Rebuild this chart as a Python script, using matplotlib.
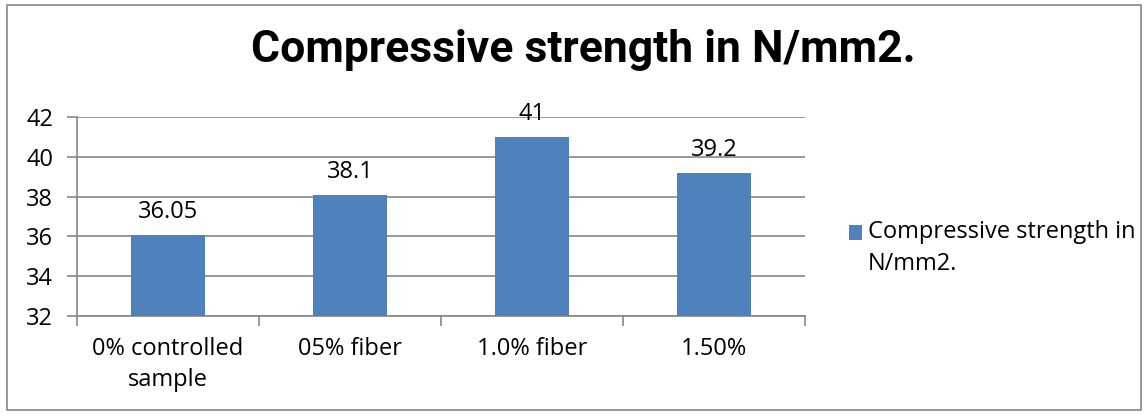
import matplotlib
matplotlib.use("Agg")
import matplotlib.pyplot as plt
from matplotlib.patches import Rectangle
from matplotlib.legend_handler import HandlerPatch

# Données du graphique
categories = ["0% controlled\nsample", "05% fiber", "1.0% fiber", "1.50%"]
valeurs = [36.05, 38.1, 41, 39.2]
etiquettes = ["36.05", "38.1", "41", "39.2"]
serie = "Compressive strength in\nN/mm2."
titre = "Compressive strength in N/mm2."

bleu = "#4F81BD"
gris = "#868686"
police = ["Open Sans", "DejaVu Sans"]
taille = 17


def carre_haut(legend, orig_handle, xdescent, ydescent, width, height, fontsize):
    # carré de légende aligné sur la première ligne du texte
    return Rectangle((-xdescent, -ydescent + 0.68 * fontsize), width, height)


fig = plt.figure(figsize=(11.48, 4.15), dpi=100)
fig.patches.append(Rectangle((7 / 1148, 5 / 415), 1134 / 1148, 405 / 415,
                             transform=fig.transFigure, fill=False,
                             edgecolor=gris, linewidth=1.2))

ax = fig.add_axes([77 / 1148, 1 - 316 / 415, (805 - 77) / 1148, (316 - 117) / 415])
x = range(len(categories))
barres = ax.bar(x, [v - 32 for v in valeurs], bottom=32, width=0.41,
                color=bleu, label=serie, zorder=3)

ax.set_ylim(32, 42)
ax.set_xlim(-0.5, 3.5)
ax.set_yticks(range(32, 43, 2))
ax.grid(axis="y", color=gris, linewidth=1.2, zorder=0)

for s in ["top", "right"]:
    ax.spines[s].set_visible(False)
for s in ["left", "bottom"]:
    ax.spines[s].set_color(gris)
    ax.spines[s].set_linewidth(1.2)

ax.set_xticks([i + 0.5 for i in range(-1, 4)], minor=True)
ax.set_xticks(list(x))
ax.set_xticklabels(categories, fontsize=taille, family=police, linespacing=1.4)
ax.tick_params(axis="x", which="major", length=0, pad=15)
ax.tick_params(axis="x", which="minor", length=7, color=gris, width=1.2)
ax.tick_params(axis="y", length=7.2, color=gris, width=1.2, labelsize=taille, pad=10)
for lab in ax.get_yticklabels():
    lab.set_family(police)

for b, t in zip(barres, etiquettes):
    ax.text(b.get_x() + b.get_width() / 2, b.get_y() + b.get_height() + 0.55, t,
            ha="center", va="bottom", fontsize=taille, family=police)

fig.text(583 / 1148, 1 - 50 / 415, titre, ha="center", va="center",
         fontsize=32, fontweight="bold", family=["Roboto", "DejaVu Sans"])

leg = fig.legend(handles=[barres[0]], labels=[serie], loc="center left",
                 bbox_to_anchor=(828 / 1148, 1 - 248 / 415), frameon=False,
                 prop={"family": police, "size": taille}, handlelength=0.55,
                 handleheight=0.55, handletextpad=0.25, labelspacing=0,
                 handler_map={barres[0]: HandlerPatch(patch_func=carre_haut)})
for t in leg.get_texts():
    t.set_linespacing(1.45)

fig.savefig("out.png", dpi=100)
